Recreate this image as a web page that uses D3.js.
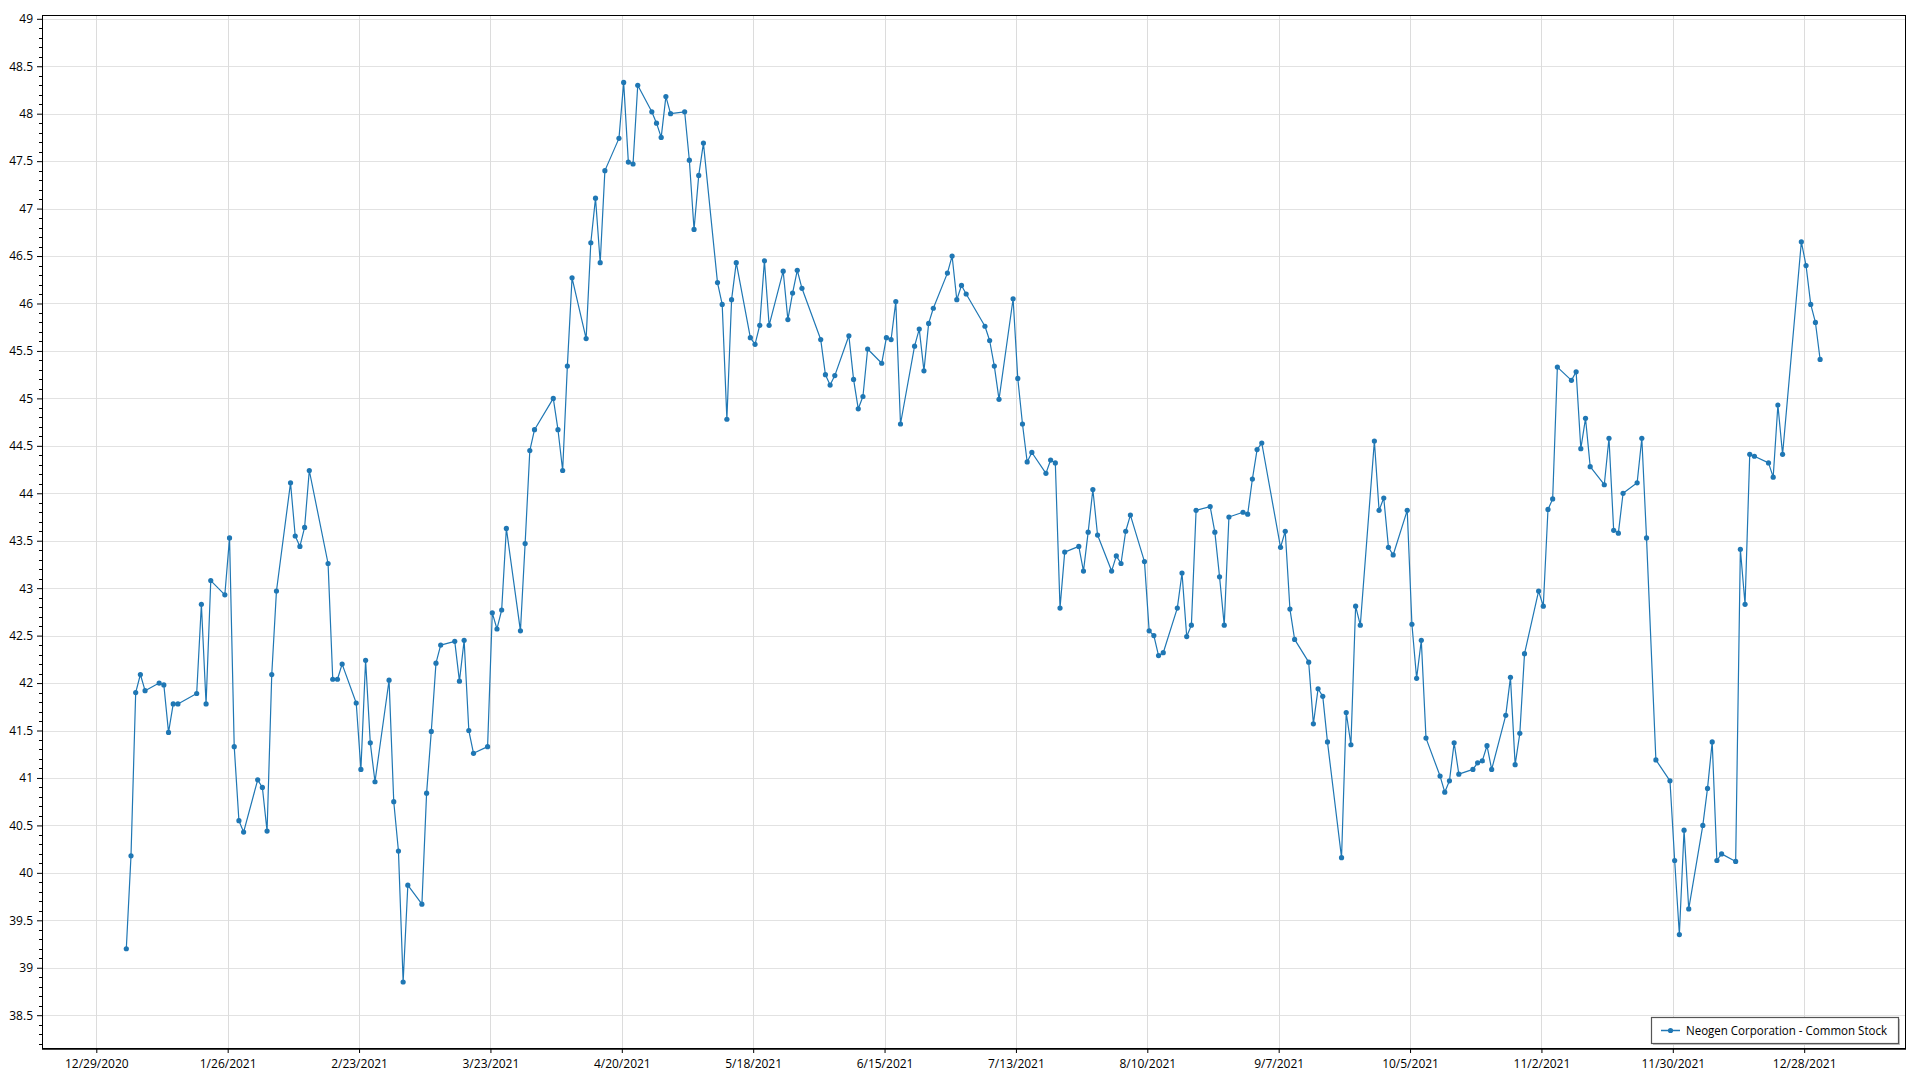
<!DOCTYPE html>
<html>
<head>
<meta charset="utf-8">
<script src="https://cdn.jsdelivr.net/npm/d3@7"></script>
<style>
  html, body { margin: 0; padding: 0; background: #fff; }
  svg { display: block; }
  text { font-family: "Open Sans", "Noto Sans", sans-serif; fill: #000; }
</style>
</head>
<body>
<svg id="chart" width="1920" height="1080"></svg>
<script>
// ---- data ----
const seriesName = "Neogen Corporation - Common Stock";

const tradeDates = [
"2021-01-04","2021-01-05","2021-01-06","2021-01-07","2021-01-08","2021-01-11","2021-01-12","2021-01-13","2021-01-14","2021-01-15",
"2021-01-19","2021-01-20","2021-01-21","2021-01-22","2021-01-25","2021-01-26","2021-01-27","2021-01-28","2021-01-29",
"2021-02-01","2021-02-02","2021-02-03","2021-02-04","2021-02-05","2021-02-08","2021-02-09","2021-02-10","2021-02-11","2021-02-12",
"2021-02-16","2021-02-17","2021-02-18","2021-02-19","2021-02-22","2021-02-23","2021-02-24","2021-02-25","2021-02-26",
"2021-03-01","2021-03-02","2021-03-03","2021-03-04","2021-03-05","2021-03-08","2021-03-09","2021-03-10","2021-03-11","2021-03-12",
"2021-03-15","2021-03-16","2021-03-17","2021-03-18","2021-03-19","2021-03-22","2021-03-23","2021-03-24","2021-03-25","2021-03-26",
"2021-03-29","2021-03-30","2021-03-31",
"2021-04-01","2021-04-05","2021-04-06","2021-04-07","2021-04-08","2021-04-09","2021-04-12","2021-04-13","2021-04-14","2021-04-15","2021-04-16",
"2021-04-19","2021-04-20","2021-04-21","2021-04-22","2021-04-23","2021-04-26","2021-04-27","2021-04-28","2021-04-29","2021-04-30",
"2021-05-03","2021-05-04","2021-05-05","2021-05-06","2021-05-07","2021-05-10","2021-05-11","2021-05-12","2021-05-13","2021-05-14",
"2021-05-17","2021-05-18","2021-05-19","2021-05-20","2021-05-21","2021-05-24","2021-05-25","2021-05-26","2021-05-27","2021-05-28",
"2021-06-01","2021-06-02","2021-06-03","2021-06-04","2021-06-07","2021-06-08","2021-06-09","2021-06-10","2021-06-11",
"2021-06-14","2021-06-15","2021-06-16","2021-06-17","2021-06-18","2021-06-21","2021-06-22","2021-06-23","2021-06-24","2021-06-25",
"2021-06-28","2021-06-29","2021-06-30",
"2021-07-01","2021-07-02","2021-07-06","2021-07-07","2021-07-08","2021-07-09","2021-07-12","2021-07-13","2021-07-14","2021-07-15","2021-07-16",
"2021-07-19","2021-07-20","2021-07-21","2021-07-22","2021-07-23","2021-07-26","2021-07-27","2021-07-28","2021-07-29","2021-07-30",
"2021-08-02","2021-08-03","2021-08-04","2021-08-05","2021-08-06","2021-08-09","2021-08-10","2021-08-11","2021-08-12","2021-08-13",
"2021-08-16","2021-08-17","2021-08-18","2021-08-19","2021-08-20","2021-08-23","2021-08-24","2021-08-25","2021-08-26","2021-08-27",
"2021-08-30","2021-08-31",
"2021-09-01","2021-09-02","2021-09-03","2021-09-07","2021-09-08","2021-09-09","2021-09-10","2021-09-13","2021-09-14","2021-09-15",
"2021-09-16","2021-09-17","2021-09-20","2021-09-21","2021-09-22","2021-09-23","2021-09-24","2021-09-27","2021-09-28","2021-09-29","2021-09-30",
"2021-10-01","2021-10-04","2021-10-05","2021-10-06","2021-10-07","2021-10-08","2021-10-11","2021-10-12","2021-10-13","2021-10-14","2021-10-15",
"2021-10-18","2021-10-19","2021-10-20","2021-10-21","2021-10-22","2021-10-25","2021-10-26","2021-10-27","2021-10-28","2021-10-29",
"2021-11-01","2021-11-02","2021-11-03","2021-11-04","2021-11-05","2021-11-08","2021-11-09","2021-11-10","2021-11-11","2021-11-12",
"2021-11-15","2021-11-16","2021-11-17","2021-11-18","2021-11-19","2021-11-22","2021-11-23","2021-11-24","2021-11-26","2021-11-29","2021-11-30",
"2021-12-01","2021-12-02","2021-12-03","2021-12-06","2021-12-07","2021-12-08","2021-12-09","2021-12-10","2021-12-13","2021-12-14",
"2021-12-15","2021-12-16","2021-12-17","2021-12-20","2021-12-21","2021-12-22","2021-12-23","2021-12-27","2021-12-28","2021-12-29",
"2021-12-30","2021-12-31"
];

const closePrices = [
39.20,40.18,41.90,42.09,41.92,42.00,41.98,41.48,41.78,41.78,
41.89,42.83,41.78,43.08,42.93,43.53,41.33,40.55,40.43,
40.98,40.90,40.44,42.09,42.97,44.11,43.55,43.44,43.64,44.24,
43.26,42.04,42.04,42.20,41.79,41.09,42.24,41.37,40.96,
42.03,40.75,40.23,38.85,39.87,39.67,40.84,41.49,42.21,42.40,
42.44,42.02,42.45,41.50,41.26,41.33,42.74,42.57,42.77,43.63,
42.55,43.47,44.45,
44.67,45.00,44.67,44.24,45.34,46.27,45.63,46.64,47.11,46.43,47.40,
47.74,48.33,47.49,47.47,48.30,48.02,47.90,47.75,48.18,48.00,
48.02,47.51,46.78,47.35,47.69,46.22,45.99,44.78,46.04,46.43,
45.64,45.57,45.77,46.45,45.77,46.34,45.83,46.11,46.35,46.16,
45.62,45.25,45.14,45.24,45.66,45.20,44.89,45.02,45.52,
45.37,45.64,45.62,46.02,44.73,45.55,45.73,45.29,45.79,45.95,
46.32,46.50,46.04,
46.19,46.10,45.76,45.61,45.34,44.99,46.05,45.21,44.73,44.33,44.43,
44.21,44.35,44.32,42.79,43.38,43.44,43.18,43.59,44.04,43.56,
43.18,43.34,43.26,43.60,43.77,43.28,42.55,42.50,42.29,42.32,
42.79,43.16,42.49,42.61,43.82,43.86,43.59,43.12,42.61,43.75,
43.80,43.78,
44.15,44.46,44.53,43.43,43.60,42.78,42.46,42.22,41.57,41.94,
41.86,41.38,40.16,41.69,41.35,42.81,42.61,44.55,43.82,43.95,43.43,
43.35,43.82,42.62,42.05,42.45,41.42,41.02,40.85,40.97,41.37,41.04,
41.09,41.16,41.18,41.34,41.09,41.66,42.06,41.14,41.47,42.31,
42.97,42.81,43.83,43.94,45.33,45.19,45.28,44.47,44.79,44.28,
44.09,44.58,43.61,43.58,44.00,44.11,44.58,43.53,41.19,40.97,40.13,
39.35,40.45,39.62,40.50,40.89,41.38,40.13,40.20,40.12,43.41,
42.83,44.41,44.39,44.32,44.17,44.93,44.41,46.65,46.40,45.99,
45.80,45.41
];

const xTickLabels = ["12/29/2020","1/26/2021","2/23/2021","3/23/2021","4/20/2021","5/18/2021","6/15/2021",
  "7/13/2021","8/10/2021","9/7/2021","10/5/2021","11/2/2021","11/30/2021","12/28/2021"];
const yTickValues = [38.5,39,39.5,40,40.5,41,41.5,42,42.5,43,43.5,44,44.5,45,45.5,46,46.5,47,47.5,48,48.5,49];

// ---- layout ----
const plot = { left: 42, top: 15, right: 1906, bottom: 1049 };
const svg = d3.select("#chart");

const parseMDY = s => { const [m, d, y] = s.split("/").map(Number); return new Date(Date.UTC(y, m - 1, d)); };
const parseISO = s => { const [y, m, d] = s.split("-").map(Number); return new Date(Date.UTC(y, m - 1, d, 9, 30)); };

const xTicks = xTickLabels.map(parseMDY);
const x = d3.scaleUtc()
  .domain([xTicks[0], xTicks[xTicks.length - 1]])
  .range([96.3, 96.3 + 364 * 4.692]);
const y = d3.scaleLinear().domain([38.5, 49]).range([1015.2, 18.8]);

const data = tradeDates.map((d, i) => ({ date: parseISO(d), value: closePrices[i] }));

// clip
svg.append("defs").append("clipPath").attr("id", "clip")
  .append("rect").attr("x", plot.left).attr("y", plot.top)
  .attr("width", plot.right - plot.left).attr("height", plot.bottom - plot.top);

// grid
const grid = svg.append("g").attr("clip-path", "url(#clip)");
grid.selectAll("line.h").data(yTickValues).join("line")
  .attr("x1", plot.left).attr("x2", plot.right)
  .attr("y1", d => Math.round(y(d)) + 0.5).attr("y2", d => Math.round(y(d)) + 0.5)
  .attr("stroke", "#e2e2e2").attr("stroke-width", 1);
grid.selectAll("line.v").data(xTicks).join("line")
  .attr("y1", plot.top).attr("y2", plot.bottom)
  .attr("x1", d => Math.round(x(d)) + 0.5).attr("x2", d => Math.round(x(d)) + 0.5)
  .attr("stroke", "#dcdcdc").attr("stroke-width", 1);

// y axis
const yAxis = d3.axisLeft(y).tickValues(yTickValues).tickSize(5).tickPadding(4)
  .tickFormat(d => String(+d.toFixed(1)));
const yg = svg.append("g").attr("transform", `translate(${plot.left},0)`).call(yAxis);
yg.select(".domain").remove();
yg.selectAll("text").attr("font-size", 12).attr("font-family", "'Open Sans', 'Noto Sans', sans-serif").attr("fill", "#000");
yg.selectAll("line").attr("stroke", "#000");
// minor y ticks
const minorY = d3.range(382, 491).map(v => v / 10).filter(v => Math.abs(v * 2 - Math.round(v * 2)) > 1e-6 && v <= 49.04 && v >= 38.14);
svg.append("g").selectAll("line").data(minorY).join("line")
  .attr("x1", plot.left - 3).attr("x2", plot.left)
  .attr("y1", d => Math.round(y(d)) + 0.5).attr("y2", d => Math.round(y(d)) + 0.5)
  .attr("stroke", "#000").attr("stroke-width", 1);

// x axis
const xAxis = d3.axisBottom(x).tickValues(xTicks).tickSize(4).tickPadding(6)
  .tickFormat((d, i) => xTickLabels[i]);
const xg = svg.append("g").attr("transform", `translate(0,${plot.bottom})`).call(xAxis);
xg.select(".domain").remove();
xg.selectAll("text").attr("font-size", 12).attr("font-family", "'Open Sans', 'Noto Sans', sans-serif").attr("fill", "#000");
xg.selectAll("line").attr("stroke", "#000");

// frame
svg.append("rect")
  .attr("x", plot.left + 0.5).attr("y", plot.top + 0.5)
  .attr("width", plot.right - plot.left - 1).attr("height", plot.bottom - plot.top - 1)
  .attr("fill", "none").attr("stroke", "#000").attr("stroke-width", 1);
svg.append("line").attr("x1", plot.left).attr("x2", plot.right)
  .attr("y1", plot.bottom).attr("y2", plot.bottom).attr("stroke", "#000").attr("stroke-width", 1.5);

// series
const color = "#1f77b4";
const line = d3.line().x(d => x(d.date)).y(d => y(d.value));
const series = svg.append("g").attr("clip-path", "url(#clip)");
series.append("path").datum(data)
  .attr("d", line).attr("fill", "none").attr("stroke", color).attr("stroke-width", 1.2)
  .attr("stroke-linejoin", "round");
series.selectAll("circle").data(data).join("circle")
  .attr("cx", d => x(d.date)).attr("cy", d => y(d.value)).attr("r", 2.6)
  .attr("fill", color);

// legend
const lg = svg.append("g");
const lx = 1651, ly = 1017, lw = 247, lh = 26;
lg.append("rect").attr("x", lx + 2).attr("y", ly + 2).attr("width", lw).attr("height", lh).attr("fill", "#c4c4c4");
lg.append("rect").attr("x", lx + 0.5).attr("y", ly + 0.5).attr("width", lw).attr("height", lh)
  .attr("fill", "#fff").attr("stroke", "#555").attr("stroke-width", 1.2);
lg.append("line").attr("x1", 1661).attr("x2", 1680).attr("y1", ly + 13.5).attr("y2", ly + 13.5)
  .attr("stroke", color).attr("stroke-width", 1.5);
lg.append("circle").attr("cx", 1670.5).attr("cy", ly + 13.5).attr("r", 2.6).attr("fill", color);
lg.append("text").attr("x", 1686).attr("y", ly + 17.5).attr("font-size", 12)
  .attr("textLength", 201).attr("lengthAdjust", "spacingAndGlyphs").text(seriesName);
</script>
</body>
</html>
